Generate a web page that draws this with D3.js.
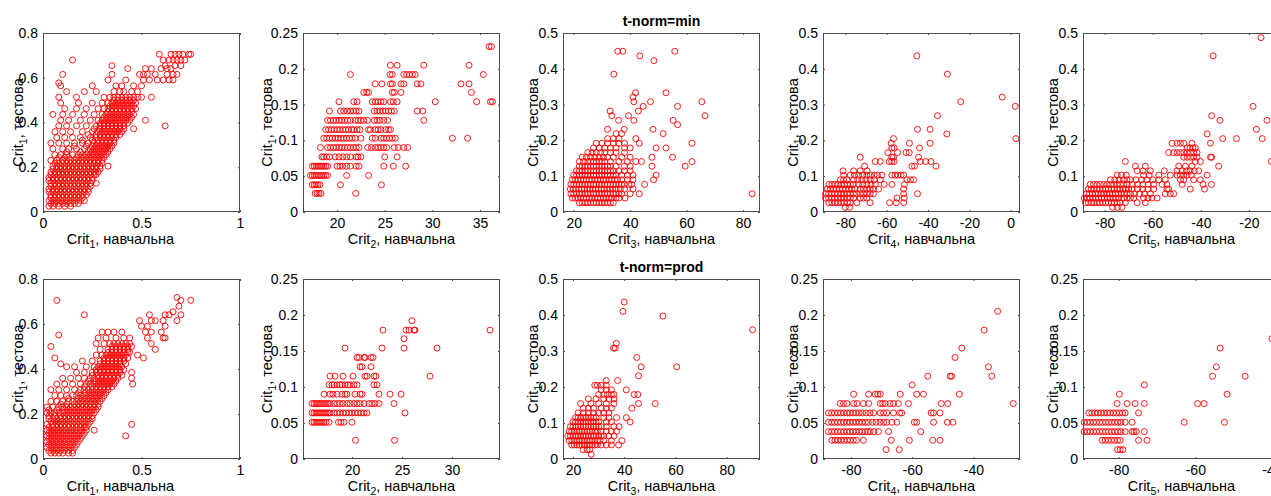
<!DOCTYPE html>
<html>
<head>
<meta charset="utf-8">
<script src="https://cdn.jsdelivr.net/npm/d3@7"></script>
<style>
  body { margin: 0; background: #fff; }
  text { font-family: "Liberation Sans", Arial, Helvetica, sans-serif; }
</style>
</head>
<body>
<svg id="chart" width="1271" height="496"></svg>
<script>
// rows: [test value (Crit1, тестова), [train values ...]]
var minCrit1 = [
  [0.026, [0.03,0.05,0.08,0.11,0.14]],
  [0.038, [0.04,0.06,0.08,0.10,0.12,0.14,0.16,0.18]],
  [0.051, [0.03,0.05,0.07,0.09,0.11,0.13,0.15,0.17,0.19,0.21]],
  [0.064, [0.04,0.06,0.08,0.10,0.12,0.14,0.16,0.18,0.20]],
  [0.077, [0.04,0.06,0.08,0.10,0.12,0.14,0.16,0.18,0.20,0.22]],
  [0.09, [0.03,0.05,0.07,0.09,0.11,0.13,0.15,0.17,0.19,0.21,0.23]],
  [0.103, [0.03,0.05,0.07,0.09,0.11,0.13,0.15,0.17,0.19,0.21,0.23]],
  [0.115, [0.04,0.06,0.08,0.10,0.12,0.14,0.16,0.18,0.20,0.22,0.24]],
  [0.128, [0.04,0.06,0.08,0.10,0.12,0.14,0.16,0.18,0.20,0.22,0.24,0.27]],
  [0.141, [0.03,0.05,0.07,0.09,0.11,0.13,0.15,0.17,0.19,0.21,0.23,0.25]],
  [0.154, [0.03,0.05,0.07,0.09,0.11,0.13,0.15,0.17,0.19,0.21,0.23,0.25]],
  [0.167, [0.04,0.06,0.08,0.10,0.12,0.14,0.16,0.18,0.20,0.22,0.24,0.26,0.27]],
  [0.179, [0.04,0.06,0.08,0.10,0.12,0.14,0.16,0.18,0.20,0.22,0.24,0.26,0.28]],
  [0.192, [0.05,0.07,0.09,0.11,0.13,0.15,0.17,0.19,0.21,0.23,0.25,0.27,0.29]],
  [0.205, [0.05,0.07,0.09,0.11,0.13,0.15,0.17,0.19,0.21,0.23,0.25,0.27,0.29,0.33]],
  [0.218, [0.06,0.08,0.10,0.12,0.14,0.16,0.18,0.20,0.22,0.24,0.26,0.28,0.30]],
  [0.231, [0.04,0.07,0.10,0.12,0.14,0.16,0.18,0.20,0.22,0.24,0.26,0.28,0.30]],
  [0.244, [0.08,0.11,0.13,0.17,0.19,0.21,0.23,0.25,0.27,0.29,0.31]],
  [0.256, [0.06,0.09,0.12,0.15,0.18,0.20,0.22,0.24,0.26,0.28,0.30,0.32]],
  [0.269, [0.12,0.19,0.23,0.25,0.27,0.29,0.31,0.33]],
  [0.282, [0.05,0.10,0.13,0.17,0.21,0.24,0.26,0.28,0.30,0.32,0.34]],
  [0.295, [0.16,0.22,0.25,0.27,0.29,0.31,0.33,0.35]],
  [0.308, [0.04,0.08,0.12,0.16,0.20,0.23,0.26,0.28,0.30,0.32,0.34,0.36]],
  [0.321, [0.20,0.25,0.28,0.30,0.32,0.34,0.36]],
  [0.333, [0.07,0.11,0.15,0.19,0.24,0.27,0.29,0.31,0.33,0.35,0.37]],
  [0.346, [0.23,0.27,0.29,0.31,0.33,0.35,0.37,0.39]],
  [0.359, [0.06,0.10,0.14,0.20,0.25,0.28,0.30,0.32,0.34,0.36,0.38,0.40]],
  [0.372, [0.26,0.29,0.31,0.33,0.35,0.37,0.39,0.41,0.46]],
  [0.385, [0.08,0.12,0.17,0.22,0.27,0.29,0.31,0.33,0.35,0.37,0.39,0.41,0.62]],
  [0.397, [0.29,0.31,0.33,0.35,0.37,0.39,0.41,0.43]],
  [0.41, [0.09,0.13,0.19,0.24,0.28,0.30,0.32,0.34,0.36,0.38,0.40,0.42,0.44,0.52]],
  [0.423, [0.31,0.33,0.35,0.37,0.39,0.41,0.43,0.45]],
  [0.436, [0.05,0.10,0.15,0.21,0.26,0.30,0.32,0.34,0.36,0.38,0.40,0.42,0.44,0.46]],
  [0.449, [0.33,0.35,0.37,0.39,0.41,0.43,0.45]],
  [0.462, [0.11,0.17,0.22,0.28,0.31,0.33,0.35,0.37,0.39,0.41,0.43,0.45,0.47]],
  [0.474, [0.34,0.36,0.38,0.40,0.42,0.44,0.46]],
  [0.487, [0.09,0.18,0.25,0.30,0.33,0.35,0.37,0.39,0.41,0.43,0.45,0.47]],
  [0.5, [0.36,0.38,0.40,0.42,0.44,0.46]],
  [0.513, [0.08,0.17,0.31,0.34,0.36,0.38,0.40,0.42,0.44,0.46,0.48,0.50,0.55]],
  [0.538, [0.12,0.21,0.27,0.36,0.39,0.41,0.45,0.48]],
  [0.564, [0.09,0.25,0.37,0.40,0.46,0.50]],
  [0.577, [0.08]],
  [0.59, [0.33,0.42,0.51,0.54,0.58,0.61,0.64,0.66]],
  [0.615, [0.10,0.35,0.49,0.51,0.53,0.57,0.63,0.66,0.68]],
  [0.641, [0.43,0.52,0.55,0.60,0.63,0.65]],
  [0.654, [0.35,0.62,0.67,0.70]],
  [0.679, [0.15,0.61,0.64,0.66,0.68,0.70,0.72]],
  [0.705, [0.59,0.65,0.67,0.69,0.71,0.74,0.75]]
];
var minCrit2 = [
  [0.026, [17.7,17.9,18.1,18.3,21.95]],
  [0.038, [17.4,17.6,17.8,18.0,18.2,20.35,24.65]],
  [0.051, [17.2,17.4,17.6,17.8,18.0,18.2,18.4,18.6,18.8,19.0,21.0,23.3]],
  [0.064, [17.4,17.6,17.8,18.0,18.2,18.4,18.6,18.8,19.0,20.0,20.3,20.6,21.0,21.4,22.0,22.3,24.9,25.9,27.2]],
  [0.077, [18.4,18.6,18.9,19.2,19.8,20.2,20.6,21.0,21.4,22.0,22.2,22.5,25.0,26.3]],
  [0.09, [18.25,19.0,19.3,19.6,19.9,20.2,20.5,20.8,21.1,21.4,21.7,22.0,22.3,23.2,23.6,24.0,24.3,24.6,24.9,25.2,26.0,26.4,27.0,27.4]],
  [0.103, [18.6,18.9,19.2,19.5,19.8,20.1,20.4,20.7,21.0,21.3,21.6,21.9,22.5,23.7,24.0,24.6,24.9,25.2,25.5,25.8,26.1,32.1,33.7]],
  [0.115, [18.8,19.1,19.4,19.7,20.0,20.3,20.6,20.9,21.2,21.5,21.75,22.1,22.4,23.3,23.5,24.0,24.3,24.6,25.1,25.4,25.6]],
  [0.128, [19.0,19.3,19.6,19.9,20.2,20.5,20.8,21.1,21.4,21.9,22.2,22.5,22.8,23.2,23.9,24.2,24.5,24.9,25.3,29.1]],
  [0.141, [19.2,20.35,20.7,21.05,21.4,21.7,22.0,22.3,23.9,24.2,24.5,24.8,25.1,25.4,25.7,26.0,28.4,29.0]],
  [0.154, [20.2,21.75,22.1,23.7,24.0,24.3,24.6,24.9,25.6,25.9,26.3,30.3,34.65,36.1,36.3]],
  [0.167, [22.8,23.1,23.3,25.8,26.0,26.7,34.1]],
  [0.179, [24.0,24.7,25.6,25.8,26.7,27.0,28.4,28.8,33.0,33.85]],
  [0.192, [21.4,25.55,25.8,27.0,27.3,27.6,27.9,28.2,35.35]],
  [0.205, [25.6,26.3,29.1,33.85]],
  [0.231, [35.95,36.2]]
];
var minCrit3 = [
  [0.026, [22,23,24,25,26,27,28,29,30,31,32,33,34]],
  [0.039, [19.5,20.5,21.5,22.5,23.5,24.5,25.5,26.5,27.5,28.5,29.5,30.5,31.5,32.5,33.5,35,36,38.2]],
  [0.051, [19,20,21,22,23,24,25,26,27,28,29,30,31,32,33,34,35,36,37,40,43.2,83.2]],
  [0.064, [18.8,19.8,20.8,21.8,22.8,23.8,24.8,25.8,26.8,27.8,28.8,29.8,30.8,31.8,32.8,33.8,35,36.5,38,41]],
  [0.077, [19,20,21,22,23,24,25,26,27,28,29,30,31,32,33,34,35,36,37,38,39.5,40.5,45.1]],
  [0.09, [19.5,20.5,21.5,22.5,23.5,24.5,25.5,26.5,27.5,28.5,29.5,30.5,31.5,32.5,33.5,34.5,35.5,37,39,41,48.3]],
  [0.103, [20,21,22,23,24,25,26,27,28,29,30,31,32,33,34,35,37,39,41,49.2]],
  [0.115, [21,22,23,24,25,26,27,28,29,30,31,32,33,34,36,38,40]],
  [0.128, [22,23,24,25,26,27,28,29,30,31,32,33,35,38,40,47.7,59.5]],
  [0.141, [22,23.5,25,26,27,28,29,30,31,33,36,39,42,44,61.9]],
  [0.153, [23,24.5,26,27.5,29,30.5,32,34,37,40,47.7,55.0]],
  [0.166, [25,26.5,28,29.5,31,33,35,38]],
  [0.179, [27,29,31,33,35,38,40,49.2,52.7]],
  [0.192, [28,30,32,34,36,38,43.2,61.9]],
  [0.205, [32,34,36,42]],
  [0.219, [35,37,51.7]],
  [0.231, [32,37.9,48.1]],
  [0.244, [56.8]],
  [0.256, [35.9,41.3,55.2]],
  [0.269, [33.5,39.4,66.5]],
  [0.282, [32.9,42.9]],
  [0.295, [44.6,56.8]],
  [0.308, [41.3,47.2,65.4]],
  [0.321, [41.0]],
  [0.333, [41.9,52.7]],
  [0.385, [34.2]],
  [0.423, [48.4]],
  [0.436, [43.4]],
  [0.449, [35.6,37.4,55.8]]
];
var minCrit4 = [
  [0.013, [-80,-77.9]],
  [0.026, [-88,-86.5,-85,-83.5,-82,-80.5,-79,-77.6,-74.4,-68,-58.6,-55.4,-51.8]],
  [0.039, [-89.6,-88.1,-86.6,-85.1,-83.6,-82.1,-80.6,-79.1,-77.6,-76,-72.8,-71.2,-69.6,-55,-51.5]],
  [0.051, [-89.6,-88.1,-86.6,-85.1,-83.6,-82.1,-80.6,-79.1,-77.6,-76.1,-74.6,-72.8,-71.2,-69.6,-68,-66.4,-51.8,-45.1]],
  [0.064, [-88.8,-87.3,-85.8,-84.3,-82.8,-81.3,-79.8,-78.3,-76.8,-75.3,-72.8,-71.2,-69.6,-68,-66.4,-63.9,-51.8]],
  [0.077, [-88,-86.5,-85,-83.5,-82,-80.5,-79,-77.5,-76.2,-73.6,-71.6,-69.6,-67.6,-65.5,-61.2,-57.5,-51.4]],
  [0.09, [-82.4,-80.8,-79.2,-76,-74,-72,-70,-68,-66,-63.1,-50.2,-48.5,-47]],
  [0.103, [-80.8,-77.6,-75.6,-73.6,-71.6,-69.6,-67.9,-66,-64.5,-62.3,-57.5,-56,-54.5,-53,-51.8]],
  [0.115, [-81.1,-76,-72.8,-69.5]],
  [0.128, [-70.7,-47.8,-46.5,-36.1]],
  [0.141, [-65.5,-63.1,-58.8,-57.6,-56.4,-43.8,-41.1,-38.6]],
  [0.153, [-72.8,-57.5,-56.7,-44.6]],
  [0.166, [-59.4,-54.7,-50.6,-49.1]],
  [0.179, [-57.5,-56.4,-44.1]],
  [0.192, [-57.8,-49,-39]],
  [0.205, [-56.7,2.5]],
  [0.218, [-30.9]],
  [0.231, [-45.1,-39]],
  [0.269, [-35.4]],
  [0.295, [2.2]],
  [0.308, [-24.2]],
  [0.321, [-4.1]],
  [0.385, [-30.6]],
  [0.436, [-45.4]]
];
var minCrit5 = [
  [0.013, [-76.7,-74.7,-72.8]],
  [0.026, [-88,-86.8,-85.6,-84.4,-83.2,-82,-80.8,-79.6,-78.4,-77.2,-76,-74.8,-73.5,-71.4,-66.5,-63.1]],
  [0.039, [-88.5,-87.3,-86.1,-84.9,-83.7,-82.5,-81.3,-80.1,-78.9,-77.7,-76.5,-75.3,-74.1,-72.1,-70.7,-69.3,-67.9,-63.8,-62,-60.3,-58.2]],
  [0.051, [-87.5,-86.3,-85.1,-83.9,-82.7,-81.5,-80.3,-79.1,-77.9,-76.7,-75.5,-74.3,-73.1,-71.9,-70.7,-69.3,-67.5,-65.5,-63.5,-61,-54.8,-52.7,-51.3]],
  [0.064, [-86.8,-85.6,-84.4,-83.2,-82,-80.8,-79.6,-78.4,-77.2,-76,-74.8,-73.6,-72.4,-71.2,-70,-68.6,-66.4,-64.2,-62,-59.6,-54.1,-53.4,-44.4,-38.5]],
  [0.077, [-86,-84.6,-83.2,-81.8,-80.4,-79,-77.6,-76.2,-74.8,-73.4,-72.1,-70.7,-68.5,-66.3,-64.1,-61.9,-59.6,-56.1,-54.1,-47.8,-39.1,-35.6]],
  [0.09, [-77.6,-75.8,-74,-72.2,-70.7,-69.3,-67,-64.7,-62.4,-60,-57.5,-54.8,-48.5,-47.1,-43,-40.2]],
  [0.103, [-74.8,-73,-71,-63.8,-61.5,-57.5,-52.7,-49.9,-48.5,-47.1,-45.7,-43.9,-37.4]],
  [0.115, [-66.5,-64,-61,-55.2,-49.9,-47.8,-46,-44.5,-42.7,-40.9]],
  [0.128, [-67.2,-63.1,-49.2,-46.4,-43.7,-32.6]],
  [0.141, [-71.4,-42.3,-40.2,-10.7]],
  [0.153, [-47.1,-45.7,-44.3,-43,-41.6,-36,-35.5]],
  [0.166, [-53.4,-51.3,-49.9,-48.5,-47.1,-45.7,-44.3,-43,-41.6]],
  [0.179, [-45.7,-44.5,-43.3,-42.3]],
  [0.192, [-52,-49.9,-48.5,-47.1,-43.7,-36]],
  [0.205, [-30.9,-25.2,-14.5]],
  [0.218, [-37.4]],
  [0.231, [-16.9]],
  [0.256, [-32.1,-12.5]],
  [0.269, [-35.5]],
  [0.295, [-18.3]],
  [0.436, [-34.9]],
  [0.487, [-15]]
];
var prodCrit1 = [
  [0.026, [0.04,0.06,0.08,0.10,0.13,0.15]],
  [0.038, [0.03,0.05,0.07,0.09,0.11,0.13,0.15]],
  [0.051, [0.02,0.04,0.06,0.08,0.10,0.12,0.14,0.16]],
  [0.064, [0.03,0.05,0.07,0.09,0.11,0.13,0.15,0.17]],
  [0.077, [0.02,0.04,0.06,0.08,0.10,0.12,0.14,0.16,0.18]],
  [0.09, [0.03,0.05,0.07,0.09,0.11,0.13,0.15,0.17,0.19]],
  [0.103, [0.02,0.04,0.06,0.08,0.10,0.12,0.14,0.16,0.18,0.20,0.42]],
  [0.115, [0.03,0.05,0.07,0.09,0.11,0.13,0.15,0.17,0.19,0.21]],
  [0.128, [0.02,0.04,0.06,0.08,0.10,0.12,0.14,0.16,0.18,0.20,0.22,0.26]],
  [0.141, [0.03,0.05,0.07,0.09,0.11,0.13,0.15,0.17,0.19,0.21,0.22]],
  [0.154, [0.02,0.05,0.07,0.09,0.11,0.13,0.15,0.17,0.19,0.21,0.23,0.45]],
  [0.167, [0.04,0.06,0.08,0.10,0.12,0.14,0.16,0.18,0.20,0.22,0.24]],
  [0.179, [0.03,0.05,0.07,0.09,0.11,0.13,0.15,0.17,0.19,0.21,0.23,0.25]],
  [0.192, [0.03,0.06,0.09,0.11,0.13,0.15,0.17,0.19,0.21,0.23,0.25]],
  [0.205, [0.02,0.04,0.06,0.08,0.10,0.12,0.14,0.16,0.18,0.20,0.22,0.24,0.26]],
  [0.218, [0.03,0.07,0.11,0.13,0.15,0.17,0.19,0.21,0.23,0.25,0.27]],
  [0.231, [0.02,0.05,0.08,0.10,0.12,0.14,0.16,0.18,0.20,0.22,0.24,0.26,0.28]],
  [0.244, [0.09,0.12,0.16,0.18,0.20,0.22,0.24,0.26,0.28]],
  [0.256, [0.04,0.07,0.10,0.13,0.15,0.17,0.19,0.21,0.23,0.25,0.27,0.29]],
  [0.269, [0.13,0.18,0.20,0.22,0.24,0.26,0.28,0.30]],
  [0.282, [0.06,0.09,0.12,0.15,0.17,0.19,0.21,0.23,0.25,0.27,0.29,0.31]],
  [0.295, [0.18,0.22,0.24,0.26,0.28,0.30,0.32]],
  [0.308, [0.04,0.08,0.12,0.16,0.19,0.21,0.23,0.25,0.27,0.29,0.31,0.33]],
  [0.321, [0.21,0.25,0.27,0.29,0.31,0.33,0.35]],
  [0.333, [0.07,0.11,0.15,0.19,0.22,0.24,0.26,0.28,0.30,0.32,0.34,0.36,0.455]],
  [0.346, [0.23,0.27,0.29,0.31,0.33,0.35,0.37]],
  [0.359, [0.10,0.14,0.18,0.21,0.24,0.26,0.28,0.30,0.32,0.34,0.36,0.38,0.45]],
  [0.372, [0.25,0.28,0.30,0.32,0.34,0.36,0.38,0.40]],
  [0.385, [0.17,0.21,0.25,0.27,0.29,0.31,0.33,0.35,0.37,0.39,0.45]],
  [0.397, [0.27,0.29,0.31,0.33,0.35,0.37,0.39,0.41]],
  [0.41, [0.12,0.16,0.22,0.26,0.28,0.30,0.32,0.34,0.36,0.38,0.40]],
  [0.423, [0.09,0.29,0.31,0.33,0.35,0.37,0.39,0.42]],
  [0.436, [0.20,0.25,0.29,0.31,0.33,0.35,0.37,0.39,0.41]],
  [0.449, [0.06,0.31,0.33,0.35,0.37,0.39,0.41,0.43,0.51]],
  [0.462, [0.27,0.30,0.32,0.34,0.36,0.38,0.40,0.42,0.48]],
  [0.474, [0.33,0.35,0.37,0.39,0.41,0.43,0.44]],
  [0.487, [0.29,0.33,0.35,0.37,0.39,0.41,0.43,0.57]],
  [0.5, [0.04,0.35,0.37,0.39,0.41,0.43,0.45]],
  [0.513, [0.27,0.31,0.34,0.36,0.38,0.40,0.42,0.44,0.55]],
  [0.538, [0.28,0.32,0.37,0.41,0.44,0.53,0.61,0.62]],
  [0.551, [0.08]],
  [0.564, [0.30,0.33,0.36,0.40,0.52,0.55,0.60]],
  [0.59, [0.50,0.53,0.62]],
  [0.615, [0.49,0.55,0.57,0.61,0.68]],
  [0.641, [0.21,0.54,0.62,0.64,0.70]],
  [0.654, [0.66]],
  [0.679, [0.69]],
  [0.705, [0.07,0.70,0.75]],
  [0.718, [0.68]]
];
var prodCrit2 = [
  [0.026, [20.35,24.25]],
  [0.051, [16.0,16.2,16.4,16.6,16.8,17.0,17.2,17.4,17.7,18.65,18.9,19.2,20.0]],
  [0.064, [16.0,16.2,16.4,16.6,16.8,17.0,17.2,17.4,17.6,17.8,18.2,18.5,18.8,19.1,19.4,19.7,20.0,20.3,20.6,20.9,21.2,21.5,25.3]],
  [0.077, [16.0,16.2,16.4,16.6,16.8,17.0,17.2,17.4,17.6,17.8,18.2,18.5,18.8,19.1,19.5,19.8,20.2,20.5,20.8,21.2,21.7,22.0,22.3,22.7,24.2]],
  [0.09, [17.2,17.8,18.1,18.5,19.0,19.3,19.5,20.3,20.8,21.0,22.7,23.8,24.9]],
  [0.103, [17.7,18.0,18.2,18.5,18.8,19.0,19.3,19.6,19.8,20.2,20.5,22.2,22.5]],
  [0.115, [17.8,18.3,19.1,20.1,21.3,21.5,22.2,22.4,27.8]],
  [0.128, [20.8,21.0,21.9]],
  [0.141, [20.5,20.7,21.2,21.3,21.9,22.1]],
  [0.154, [19.3,23.0,25.2,28.5]],
  [0.167, [25.2]],
  [0.179, [23.1,25.4,25.7,26.2,26.3,33.8]],
  [0.192, [26.0]]
];
var prodCrit3 = [
  [0.013, [27.1]],
  [0.026, [24,25.5,26.5]],
  [0.039, [19.5,20.5,21.5,22.5,23.5,24.5,25.5,26.5,27.5,28.5,29.5,31,33,35,37.8]],
  [0.051, [18.5,19.5,20.5,21.5,22.5,23.5,24.5,25.5,26.5,27.5,28.5,29.5,30.5,32,35,39.1]],
  [0.064, [18,19,20,21,22,23,24,25,26,27,28,29,30,31,32,34,36]],
  [0.077, [18.5,19.5,20.5,21.5,22.5,23.5,24.5,25.5,26.5,27.5,28.5,29.5,31,33,35,37]],
  [0.09, [19,20,21,22,23,24,25,26,27,28,29,30,31,33,36,38]],
  [0.103, [20,21,22,23,24,25,26,27,28,29,30,33,35,42.3]],
  [0.115, [21,22,23,24,25,26,27,28,29,32,34,37,40.8]],
  [0.128, [22,24,26,28,30,32,34]],
  [0.141, [24,26,28,31,33,35,43]],
  [0.154, [23,27,30,33,36,45.6,52.1]],
  [0.167, [26,29,32,34,36]],
  [0.179, [30,32,33.5,35,36,43.9,45.3]],
  [0.192, [31,33,35,40.8]],
  [0.205, [28.5,29.5,31,33]],
  [0.218, [33,37.4]],
  [0.231, [45.6]],
  [0.256, [46.6,60.5]],
  [0.282, [44.9]],
  [0.308, [35.8,36.5]],
  [0.321, [36.9]],
  [0.359, [90.1]],
  [0.397, [55.1]],
  [0.41, [39.5]],
  [0.436, [40]]
];
var prodCrit4 = [
  [0.013, [-68.5,-64.2]],
  [0.026, [-86.2,-85.2,-84.2,-83.2,-82.2,-81.2,-80.2,-79.2,-78.2,-75.9,-66.8,-60.9,-53.3,-50.9]],
  [0.038, [-87.3,-86.3,-85.3,-84.3,-83.3,-82.3,-81.3,-80.3,-79.3,-78.3,-77.3,-76.3,-75.3,-74.5,-73.7,-72.5,-71,-67.7,-57.2]],
  [0.051, [-87.3,-86.3,-85.3,-84.3,-83.3,-82.3,-81.3,-80.3,-79.3,-78.3,-77.3,-76.3,-75.3,-74.3,-73,-71.8,-70.5,-69.3,-68.3,-66.6,-65,-59.3,-58.5,-53,-48.5,-46.7]],
  [0.064, [-87.3,-86.3,-85.3,-84.3,-83.3,-82.3,-81.3,-80.3,-79.3,-78.3,-77.3,-76.2,-75,-73.8,-72.6,-70.4,-69.3,-68.3,-66.1,-64.1,-63.4,-53.8,-53,-50.9]],
  [0.077, [-83.5,-82.4,-81.3,-79.1,-78,-75.9,-74.2,-70.4,-69.6,-68.8,-67.2,-66.1,-64.5,-61.2,-50.5,-48.4,-27]],
  [0.09, [-79.1,-74.2,-72,-71.2,-70.4,-63.9,-58.5,-56.3,-44.6]],
  [0.103, [-60]],
  [0.115, [-54.9,-47.6,-47.1,-34]],
  [0.128, [-35.1]],
  [0.141, [-46]],
  [0.154, [-43.8]],
  [0.179, [-36.5]],
  [0.205, [-32.1]]
];
var prodCrit5 = [
  [0.013, [-80.3,-79.6,-78.9]],
  [0.026, [-84.3,-83.5,-82.7,-81.9,-81.1,-80.3,-79.6,-74.8,-72.6]],
  [0.038, [-89,-88.2,-87.4,-86.6,-85.8,-85,-84.2,-83.4,-82.6,-81.8,-81,-80.2,-79.4,-78.3,-76.5,-76,-75.4,-73.3]],
  [0.051, [-89,-88.2,-87.4,-86.6,-85.8,-85,-84.2,-83.4,-82.6,-81.8,-81,-80.2,-79.4,-78.3,-76.5,-62.9,-52.4]],
  [0.064, [-87.8,-87,-86.2,-85.4,-84.6,-83.8,-83,-82.2,-81.4,-80.6,-79.8,-79,-78.3,-74.8]],
  [0.077, [-80.4,-77.8,-75.7,-73.3,-59.4,-57.7]],
  [0.09, [-79.8,-51.7]],
  [0.103, [-73.3]],
  [0.115, [-55.5,-47]],
  [0.128, [-54.5]],
  [0.154, [-53.5]],
  [0.167, [-40]]
];

// axis limits and tick labels
var xDomains = [
  [[0, 1], [16.42, 37.1], [16.2, 86], [-90.8, 4.5], [-89, -7.1]],
  [[0, 1], [15.1, 34.8], [16.1, 93], [-89.1, -24.8], [-89.3, -37.9]]
];
var yDomains = [
  [[0, 0.8], [0, 0.25], [0, 0.5], [0, 0.5], [0, 0.5]],
  [[0, 0.8], [0, 0.25], [0, 0.5], [0, 0.25], [0, 0.25]]
];
var xTickVals = [
  [[0, 0.5, 1], [20, 25, 30, 35], [20, 40, 60, 80], [-80, -60, -40, -20, 0], [-80, -60, -40, -20]],
  [[0, 0.5, 1], [20, 25, 30], [20, 40, 60, 80], [-80, -60, -40], [-80, -60, -40]]
];
var yTicks08 = [0, 0.2, 0.4, 0.6, 0.8],
    yTicks025 = [0, 0.05, 0.1, 0.15, 0.2, 0.25],
    yTicks05 = [0, 0.1, 0.2, 0.3, 0.4, 0.5];
var yTickVals = [
  [yTicks08, yTicks025, yTicks05, yTicks05, yTicks05],
  [yTicks08, yTicks025, yTicks05, yTicks025, yTicks025]
];
var rowData = [
  [minCrit1, minCrit2, minCrit3, minCrit4, minCrit5],
  [prodCrit1, prodCrit2, prodCrit3, prodCrit4, prodCrit5]
];
var titles = ["t-norm=min", "t-norm=prod"];

/** layout */
var colLeft = 43, colStep = 260, panelW = 197;
var rowTop = [33, 279], rowH = [179, 180];
var yLabelOffset = [-20, -31, -25, -25, -25];
var xLabelShift = [-21, 0, 0, 0, 0];
var axisColor = "#4d4d4d";

var svg = d3.select("#chart");
svg.append("rect").attr("width", 1271).attr("height", 496).attr("fill", "#fff");

function styleAxis(g) {
  g.selectAll("path.domain").remove();
  g.selectAll(".tick line").attr("stroke", axisColor);
  g.selectAll(".tick text").attr("fill", "#000")
    .style("font-family", "'Liberation Sans', Arial, sans-serif")
    .style("font-size", "14px");
}

function addCritLabel(sel, idx, word) {
  sel.append("tspan").text("Crit");
  sel.append("tspan").attr("dy", 4).style("font-size", "10.5px").text(idx);
  sel.append("tspan").attr("dy", -4).text(", " + word);
}

for (var r = 0; r < 2; r++) {
  for (var c = 0; c < 5; c++) {
    var h = rowH[r], w = panelW;
    var g = svg.append("g")
      .attr("transform", "translate(" + (colLeft + c * colStep) + "," + rowTop[r] + ")");

    var x = d3.scaleLinear().domain(xDomains[r][c]).range([0, w]);
    var y = d3.scaleLinear().domain(yDomains[r][c]).range([h, 0]);

    // flatten rows to points
    var pts = [];
    rowData[r][c].forEach(function (row) {
      row[1].forEach(function (v) { pts.push([v, row[0]]); });
    });

    g.append("g").selectAll("circle").data(pts).enter().append("circle")
      .attr("cx", function (d) { return x(d[0]); })
      .attr("cy", function (d) { return y(d[1]); })
      .attr("r", 3)
      .attr("fill", "none")
      .attr("stroke", "#ff0000")
      .attr("stroke-width", 0.9);

    var xt = xTickVals[r][c], yt = yTickVals[r][c];
    var fmt = function (v) { return String(v); };

    g.append("g").attr("transform", "translate(0," + h + ")")
      .call(d3.axisBottom(x).tickValues(xt).tickFormat(fmt).tickSize(-2).tickPadding(6))
      .call(styleAxis);
    g.append("g")
      .call(d3.axisTop(x).tickValues(xt).tickFormat("").tickSize(-2))
      .call(styleAxis);
    g.append("g")
      .call(d3.axisLeft(y).tickValues(yt).tickFormat(fmt).tickSize(-2).tickPadding(5))
      .call(styleAxis);
    g.append("g").attr("transform", "translate(" + w + ",0)")
      .call(d3.axisRight(y).tickValues(yt).tickFormat("").tickSize(-2))
      .call(styleAxis);

    g.append("rect")
      .attr("x", 0.5).attr("y", 0.5).attr("width", w - 1).attr("height", h - 1)
      .attr("fill", "none").attr("stroke", axisColor).attr("stroke-width", 1);

    var xl = g.append("text")
      .attr("x", w / 2 + xLabelShift[c]).attr("y", h + 32)
      .attr("text-anchor", "middle").style("font-size", "14.5px").attr("fill", "#000");
    addCritLabel(xl, String(c + 1), "навчальна");

    var yl = g.append("text")
      .attr("transform", "translate(" + yLabelOffset[c] + "," + (h / 2) + ") rotate(-90)")
      .attr("text-anchor", "middle").style("font-size", "14.5px").attr("fill", "#000");
    addCritLabel(yl, "1", "тестова");

    if (c === 2) {
      g.append("text")
        .attr("x", w / 2).attr("y", -7)
        .attr("text-anchor", "middle")
        .style("font-size", "14px").style("font-weight", "bold")
        .text(titles[r]);
    }
  }
}
</script>
</body>
</html>
